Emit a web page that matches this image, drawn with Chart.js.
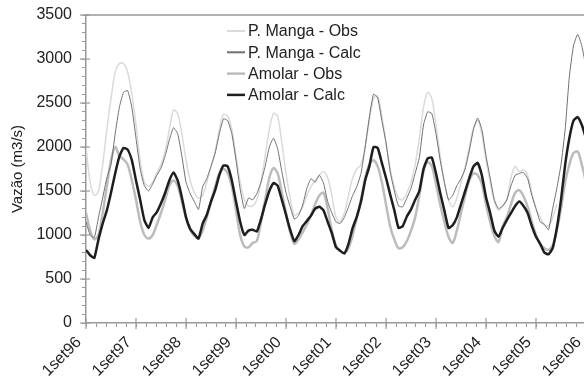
<!DOCTYPE html>
<html>
<head>
<meta charset="utf-8">
<script src="https://cdn.jsdelivr.net/npm/chart.js@4/dist/chart.umd.min.js"></script>
<style>
  html, body { margin: 0; padding: 0; background: #fff; overflow: hidden; }
  #wrap { width: 588px; height: 383px; }
</style>
</head>
<body>
<div id="wrap"><canvas id="canvasVazao"></canvas></div>
<script>
// vazoes mensais a partir de 1set96 (m3/s)
var pMangaObs = [2000,1600,1450,1500,1800,2200,2550,2850,2950,2950,2850,2600,2250,1850,1600,1550,1600,1700,1800,1950,2200,
	2420,2380,2150,1850,1620,1480,1420,1450,1600,1780,1950,2200,2370,2350,2200,1900,1600,1400,1330,
	1330,1400,1600,1900,2200,2380,2350,2050,1700,1420,1220,1250,1320,1450,1550,1620,1680,1720,1650,1450,
	1200,1150,1250,1450,1650,1750,1800,2000,2300,2550,2580,2350,2050,1750,1550,1420,1400,1480,1600,1800,
	2100,2450,2620,2550,2250,1900,1600,1400,1320,1420,1600,1780,2000,2220,2300,2150,1850,1600,1380,1280,
	1330,1400,1650,1780,1720,1740,1680,1480,1300,1200,1120,1100,1200,1350];

var pMangaCalc = [1150,1000,970,1200,1420,1650,1800,2150,2450,2620,2640,2450,2100,1750,1560,1500,1580,1680,1760,1900,2080,
	2220,2150,1900,1600,1470,1380,1290,1550,1640,1780,1930,2150,2320,2300,2150,1850,1520,1300,1420,
	1400,1470,1600,1780,2000,2100,1980,1720,1480,1320,1180,1220,1340,1530,1640,1600,1680,1590,1380,1250,
	1150,1130,1200,1320,1450,1550,1700,2000,2340,2600,2560,2300,2050,1720,1500,1330,1320,1420,1530,1700,
	1880,2250,2400,2380,2150,1850,1600,1400,1450,1560,1640,1750,1960,2200,2330,2200,1900,1650,1400,1300,
	1330,1400,1560,1680,1700,1710,1640,1450,1300,1150,1120,1060,1300,1530,1800,2200,2800,3150,3280,3150,2900];

var amolarObs = [1250,1050,950,1000,1250,1550,1850,2000,1900,1860,1800,1620,1400,1150,1000,960,1000,1120,1250,1400,1560,
	1620,1560,1380,1200,1060,990,960,1050,1200,1380,1550,1700,1750,1700,1550,1280,1000,870,860,
	910,930,1150,1400,1650,1760,1700,1480,1250,1030,900,950,1030,1120,1220,1350,1450,1480,1300,1050,
	880,820,800,850,1000,1200,1400,1650,1800,1850,1780,1600,1350,1100,950,850,860,930,1050,1200,
	1450,1720,1830,1780,1580,1350,1150,980,910,1050,1250,1450,1620,1700,1680,1580,1350,1150,990,920,
	1100,1200,1350,1480,1510,1440,1320,1150,1000,900,850,830,880,1050,1300,1600,1800,1930,1950,1800,1600];

var amolarCalc = [830,770,740,950,1130,1280,1480,1700,1890,1990,1970,1850,1620,1400,1170,1080,1200,1260,1360,1480,1620,
	1710,1620,1430,1200,1070,1010,960,1130,1230,1380,1510,1680,1790,1780,1620,1380,1150,1000,1050,
	1060,1040,1180,1350,1500,1590,1560,1400,1230,1060,930,1000,1100,1160,1220,1300,1320,1280,1150,1020,
	860,820,790,900,1080,1210,1380,1620,1780,2000,1990,1820,1650,1460,1280,1080,1100,1210,1290,1400,
	1500,1750,1870,1880,1700,1480,1280,1080,1110,1200,1350,1500,1650,1780,1820,1680,1430,1250,1050,980,
	1080,1170,1250,1330,1380,1330,1250,1100,980,900,800,780,850,1080,1400,1800,2100,2300,2340,2250,2100];

var anoInicial = 96;   // 1set96 = 0 no eixo x
var yMax = 3500;

var fonte = "'Liberation Sans', Arial, sans-serif";

function serie(valores){
	// cada valor e um mes, o eixo x conta anos desde 1set96
	return valores.map(function(v, i){ return {x: i / 12, y: v}; });
}

function rotuloAno(v){
	if (Math.abs(v - Math.round(v)) > 1e-6) return '';
	var a = (anoInicial + Math.round(v)) % 100;
	return '1set' + (a < 10 ? '0' + a : a);
}

// legenda dentro da area do grafico
var legendaPlugin = {
	id: 'legenda',
	afterDatasetsDraw: function(chart){
		var ctx = chart.ctx;
		var area = chart.chartArea;
		var x0 = area.left + 141, y0 = area.top + 16;
		ctx.save();
		ctx.font = '16px ' + fonte;
		ctx.textBaseline = 'middle';
		chart.data.datasets.forEach(function(ds, i){
			var y = y0 + i * 21.3;
			ctx.strokeStyle = ds.borderColor;
			ctx.lineWidth = Math.max(ds.borderWidth, 2);
			ctx.beginPath();
			ctx.moveTo(x0, y);
			ctx.lineTo(x0 + 18, y);
			ctx.stroke();
			ctx.fillStyle = '#222';
			ctx.fillText(ds.label, x0 + 21, y + 1);
		});
		ctx.restore();
	}
};

// borda superior e tracos maiores dos eixos
var eixosPlugin = {
	id: 'eixos',
	afterDraw: function(chart){
		var ctx = chart.ctx;
		var area = chart.chartArea;
		var sx = chart.scales.x, sy = chart.scales.y;
		ctx.save();
		ctx.strokeStyle = '#999';
		ctx.lineWidth = 1.5;
		ctx.beginPath();
		ctx.moveTo(area.left, area.top);
		ctx.lineTo(area.right, area.top);
		ctx.stroke();
		ctx.lineWidth = 1.2;
		sx.ticks.forEach(function(t){
			if (Math.abs(t.value - Math.round(t.value)) > 1e-6) return;
			var px = sx.getPixelForValue(t.value);
			ctx.beginPath();
			ctx.moveTo(px, area.bottom - 5);
			ctx.lineTo(px, area.bottom + 6);
			ctx.stroke();
		});
		sy.ticks.forEach(function(t){
			if (t.value % 500 !== 0) return;
			var py = sy.getPixelForValue(t.value);
			ctx.beginPath();
			ctx.moveTo(area.left - 6, py);
			ctx.lineTo(area.left + 4, py);
			ctx.stroke();
		});
		ctx.restore();
	}
};

var ctx = document.getElementById('canvasVazao').getContext('2d');
window.myLine = new Chart(ctx, {
	type: 'line',
	data: {
		datasets: [
			{ label: 'P. Manga - Obs', data: serie(pMangaObs), borderColor: '#dadada', borderWidth: 1.5, tension: 0.3, order: 4 },
			{ label: 'P. Manga - Calc', data: serie(pMangaCalc), borderColor: '#707070', borderWidth: 1, tension: 0.15, order: 2 },
			{ label: 'Amolar - Obs', data: serie(amolarObs), borderColor: '#bcbcbc', borderWidth: 2.5, tension: 0.3, order: 3 },
			{ label: 'Amolar - Calc', data: serie(amolarCalc), borderColor: '#1e1e1e', borderWidth: 2.5, tension: 0.15, order: 1 }
		]
	},
	options: {
		responsive: true,
		maintainAspectRatio: false,
		animation: false,
		layout: { padding: { top: 15, right: 2, left: 0, bottom: 0 } },
		elements: { point: { radius: 0 } },
		plugins: {
			legend: { display: false },
			tooltip: { enabled: false }
		},
		scales: {
			x: {
				type: 'linear',
				min: 0,
				max: 10,
				grid: { drawOnChartArea: false, tickLength: 4, color: '#999', tickColor: '#999' },
				border: { color: '#999', width: 1.5 },
				ticks: {
					stepSize: 0.2,
					maxTicksLimit: 100,
					autoSkip: false,
					minRotation: 45,
					maxRotation: 45,
					padding: 6,
					labelOffset: -7,
					color: '#222',
					font: { family: fonte, size: 16 },
					callback: function(v){ return rotuloAno(v); }
				},
				afterFit: function(scale){
					scale.height = 60;
					scale.paddingLeft = 0;
					scale.paddingRight = 0;
				}
			},
			y: {
				min: 0,
				max: yMax,
				grid: { drawOnChartArea: false, tickLength: 4, color: '#999', tickColor: '#999' },
				border: { color: '#999', width: 1.5 },
				ticks: {
					stepSize: 100,
					maxTicksLimit: 100,
					autoSkip: false,
					padding: 10,
					color: '#222',
					font: { family: fonte, size: 16 },
					callback: function(v){ return v % 500 === 0 ? v : ''; }
				},
				title: {
					display: true,
					text: 'Vazão (m3/s)',
					color: '#222',
					font: { family: fonte, size: 15 },
					padding: { top: 9, bottom: 0 }
				},
				afterFit: function(scale){
					scale.width = 86;
					scale.paddingTop = 0;
					scale.paddingBottom = 0;
				}
			}
		}
	},
	plugins: [legendaPlugin, eixosPlugin]
});
</script>
</body>
</html>
